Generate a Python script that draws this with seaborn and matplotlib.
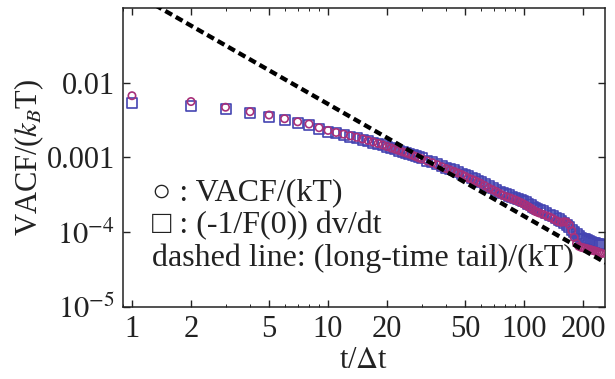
import numpy as np
import pandas as pd
import seaborn as sns
import matplotlib
matplotlib.use("Agg")
import matplotlib.pyplot as plt
from matplotlib.ticker import FixedLocator, FixedFormatter, LogLocator, NullFormatter

# time steps (t / dt)
t_steps = [1, 2, 3, 4, 5, 6, 7, 8, 9, 10, 11, 12, 13, 14, 15, 16, 17, 18, 19, 20,
           21, 22, 23, 24, 25, 26, 27, 28, 29, 30,
           32, 34, 36, 38, 40, 42, 44, 46, 48, 50, 52, 54, 56, 58, 60,
           63, 66, 69, 72, 75, 78, 81, 84, 87, 90, 93, 96, 99, 102, 105, 108, 111, 114, 117, 120,
           125, 130, 135, 140, 145, 150, 155, 160, 165, 170, 175, 180, 185, 190, 195, 200,
           205, 210, 215, 220, 225, 230, 235, 240, 245, 250]

# VACF/(kT)  (circles)
vacf = [.0067, .0056, .0047, .0041, .0037, .0033, .0030, .0028, .0025, .0023,
        .00216, .00205, .00195, .00186, .00177, .00169, .00161, .00154, .00147, .00140,
        .00134, .00129, .00124, .00119, .00115, .00111, .00107, .00103, .00099, .00096,
        .00090, .00085, .00080, .00075, .00071, .00068, .00065, .00062, .00059, .00056,
        .00053, .00051, .00049, .00047, .00045,
        .00042, .00039, .00037, .00035, .00033, .00031, .00030, .00029, .00028, .00027,
        .00026, .00025, .00024, .00023, .00022, .00021, .00020, .00019, .000185, .00018,
        .000173, .000166, .000160, .000152, .000144, .000138, .000136, .000138, .000136, .000125,
        .000105, .000085, .000071, .000065, .000063, .000062, .000061, .000060, .000059, .000058,
        .000057, .000056, .000055, .000054, .000053, .000052]

# (-1/F(0)) dv/dt  (squares)
force = [.0054, .0049, .0044, .0039, .0035, .0032, .0029, .0027, .0024, .0022,
         .00210, .00200, .00190, .00181, .00173, .00165, .00158, .00151, .00145, .00139,
         .00133, .00128, .00123, .00119, .00115, .00111, .00107, .00104, .00100, .00097,
         .00091, .00086, .00081, .00077, .00073, .00070, .00067, .00064, .00061, .00058,
         .00056, .00053, .00051, .00049, .00047,
         .00044, .00041, .00039, .00037, .00035, .00033, .00032, .00031, .00030, .00029,
         .00028, .00027, .00026, .00025, .00024, .00023, .00022, .00021, .000205, .00020,
         .000190, .000180, .000172, .000163, .000155, .000148, .000140, .000132, .000124, .000116,
         .000108, .000100, .000094, .000089, .000085, .000082, .000080, .000078, .000076, .000074,
         .000072, .000071, .000070, .000069, .000068, .000067]

# long-time tail line end points
tail_t = [1, 260]
tail_y = [0.164, 3.91e-5]

x_ticks = [1, 2, 5, 10, 20, 50, 100, 200]
y_ticks = [1e-5, 1e-4, 1e-3, 1e-2]
y_labels = [r"$10^{-5}$", r"$10^{-4}$", "0.001", "0.01"]

sns.set_style("ticks")
plt.rcParams["font.family"] = ["Liberation Serif", "DejaVu Serif"]
plt.rcParams["mathtext.fontset"] = "stix"

df = pd.DataFrame({"t": t_steps, "vacf": vacf, "force": force})
tail = pd.DataFrame({"t": tail_t, "y": tail_y})

fig = plt.figure(figsize=(6.15, 3.79), dpi=100)
ax = fig.add_axes([0.2, 0.19, 0.784, 0.789])

sns.scatterplot(data=df, x="t", y="force", marker="s", s=52, fc="none",
                ec="#4444b2", linewidth=1.2, ax=ax, zorder=2)
sns.scatterplot(data=df, x="t", y="vacf", marker="o", s=28, fc="none",
                ec="#a8307a", linewidth=1.2, ax=ax, zorder=3)
sns.lineplot(data=tail, x="t", y="y", color="black", lw=3.1,
             linestyle=(0, (1.8, 1.0)), ax=ax, zorder=4)

ax.set_xscale("log")
ax.set_yscale("log")
ax.set_xlim(0.9, 259)
ax.set_ylim(1e-5, 0.1)

ax.xaxis.set_major_locator(FixedLocator(x_ticks))
ax.xaxis.set_major_formatter(FixedFormatter([str(v) for v in x_ticks]))
ax.xaxis.set_minor_locator(LogLocator(base=10, subs=np.arange(2, 10)))
ax.xaxis.set_minor_formatter(NullFormatter())
ax.yaxis.set_major_locator(FixedLocator(y_ticks))
ax.yaxis.set_major_formatter(FixedFormatter(y_labels))
ax.yaxis.set_minor_locator(LogLocator(base=10, subs=np.arange(2, 10)))
ax.yaxis.set_minor_formatter(NullFormatter())

ax.tick_params(which="both", direction="in", top=True, right=True, colors="#222222")
ax.tick_params(which="major", length=5, width=1.0, labelsize=22, pad=6)
ax.tick_params(which="minor", length=2.5, width=0.7)
for sp in ax.spines.values():
    sp.set_linewidth(1.1)
    sp.set_color("#222222")

ax.set_xlabel(r"t/$\Delta$t", fontsize=22, labelpad=1, color="#222222")
ax.set_ylabel(r"VACF/($k_B$T)", fontsize=22, labelpad=0, color="#222222")

ax.text(0.06, 0.358, "○ : VACF/(kT)", transform=ax.transAxes, fontsize=23,
        va="baseline", color="#222222")
ax.text(0.06, 0.247, "□ : (-1/F(0)) dv/dt", transform=ax.transAxes, fontsize=23,
        va="baseline", color="#222222")
ax.text(0.06, 0.137, "dashed line: (long-time tail)/(kT)", transform=ax.transAxes,
        fontsize=23, va="baseline", color="#222222")

fig.savefig("out.png", dpi=100)
